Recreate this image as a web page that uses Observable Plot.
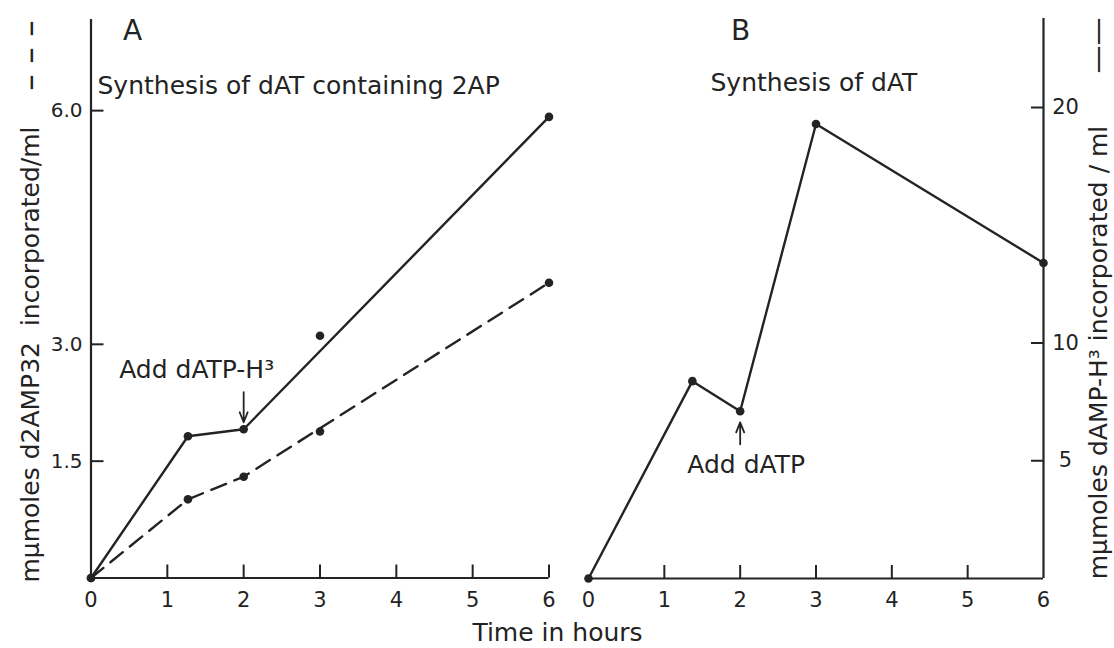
<!DOCTYPE html>
<html><head><meta charset="utf-8">
<script src="https://cdn.jsdelivr.net/npm/d3@7"></script>
<script src="https://cdn.jsdelivr.net/npm/@observablehq/plot@0.6"></script>
<style>
body{margin:0;background:#fff}
#fig{position:relative;width:1114px;height:648px;overflow:hidden;background:#fff}
#fig svg{position:absolute;left:0;top:0}
</style></head><body><div id="fig"></div>
<script>
// ---- data ----
const hoursA = [0, 1.27, 2, 3, 6];
const solidA = [0, 1.82, 1.91, 3.11, 5.92];   // mμmoles dAMP-H3 (solid)
const dashedA = [0, 1.01, 1.30, 1.88, 3.79];  // mμmoles d2AMP32 (dashed)
const onLineA = [true, true, true, false, true];
const hoursB = [0, 1.37, 2, 3, 6];
const valuesB = [0, 8.38, 7.10, 19.3, 13.4];
const xTicks = [0, 1, 2, 3, 4, 5, 6];
const yTicksA = [1.5, 3.0, 6.0];
const yTicksB = [5, 10, 20];
const titleA = "Synthesis of dAT containing 2AP";
const titleB = "Synthesis of dAT";
const noteA = "Add dATP-H³";
const noteB = "Add dATP";
const xLabel = "Time in hours";
const yLabelLeft = "mμmoles d2AMP32  incorporated/ml";
const yLabelRight = "mμmoles dAMP-H³ incorporated / ml";

const W = 1114, H = 648;
const ink = "#232323";
const font = "DejaVu Sans";

const A = hoursA.map((h, i) => ({h, solid: solidA[i], dashed: dashedA[i], line: onLineA[i]}));
const lineA = A.filter(d => d.line);
const B = hoursB.map((h, i) => ({h, v: valuesB[i]}));

const arrowShape = {
  draw(ctx, l) {
    const w = 4, hh = 10;
    ctx.moveTo(0, 0); ctx.lineTo(0, -l);
    ctx.moveTo(-w, -l + hh); ctx.lineTo(0, -l); ctx.lineTo(w, -l + hh);
  }
};

const common = {width: W, height: H, style: {background: "transparent", fontFamily: font, color: ink, overflow: "visible"}};
const intFmt = d => String(d);

const plotA = Plot.plot({
  ...common,
  marginLeft: 90.5, marginRight: W - 548.5, marginTop: 19, marginBottom: H - 577.5,
  x: {domain: [0, 6]},
  y: {domain: [0, 7.17]},
  marks: [
    Plot.ruleX([0], {stroke: ink, strokeWidth: 2.2}),
    Plot.ruleY([0], {stroke: ink, strokeWidth: 2.2}),
    Plot.axisX({ticks: xTicks.slice(1), tickSize: -13, tickFormat: () => "", strokeWidth: 2, stroke: ink, label: null}),
    Plot.axisX({ticks: xTicks, tickSize: 0, tickPadding: 14, fontSize: 21, fill: ink, tickFormat: intFmt, label: null}),
    Plot.axisY({ticks: yTicksA, tickSize: -13, tickFormat: () => "", strokeWidth: 2, stroke: ink, label: null}),
    Plot.axisY({ticks: yTicksA, tickSize: 0, tickPadding: 8.5, fontSize: 20, fill: ink, tickFormat: d => d.toFixed(1), label: null}),
    Plot.line(lineA, {x: "h", y: "solid", stroke: ink, strokeWidth: 2.4}),
    Plot.line(lineA, {x: "h", y: "dashed", stroke: ink, strokeWidth: 2.4, strokeDasharray: "16,9"}),
    Plot.dot(A, {x: "h", y: "solid", r: 4.3, fill: ink}),
    Plot.dot(A, {x: "h", y: "dashed", r: 4.3, fill: ink}),
    Plot.vector([A[2]], {x: "h", y: "solid", length: 30, rotate: 180, anchor: "end", dy: -7, shape: arrowShape, stroke: ink, strokeWidth: 1.8}),
    Plot.text([A[2]], {x: "h", y: "solid", text: () => noteA, textAnchor: "start", lineAnchor: "bottom", dx: -124.5, dy: -51, fontSize: 25, fill: ink, ariaLabel: "noteA"}),
    Plot.text(["A"], {frameAnchor: "top-left", text: d => d, dx: 41.5, dy: 20, textAnchor: "middle", lineAnchor: "bottom", fontSize: 28, fill: ink}),
    Plot.text([titleA], {frameAnchor: "top-left", text: d => d, dx: 6.5, dy: 74, textAnchor: "start", lineAnchor: "bottom", fontSize: 25, fill: ink, ariaLabel: "titleA"}),
    Plot.text([xLabel], {frameAnchor: "bottom-left", text: d => d, dx: 466.5, dy: 63, textAnchor: "middle", lineAnchor: "bottom", fontSize: 25, fill: ink, ariaLabel: "xlabel"}),
    Plot.text([yLabelLeft], {frameAnchor: "top-left", text: d => d, dx: -60.5, dy: 335, rotate: -90, textAnchor: "middle", lineAnchor: "middle", fontSize: 25, fill: ink, ariaLabel: "ylabelL"}),
    Plot.text(["– – –"], {frameAnchor: "top-left", text: d => d, dx: -60.5, dy: 36, rotate: -90, textAnchor: "middle", lineAnchor: "middle", fontSize: 33, fill: ink})
  ]
});

const plotB = Plot.plot({
  ...common,
  marginLeft: 588, marginRight: W - 1043, marginTop: 18, marginBottom: H - 578,
  x: {domain: [0, 6]},
  y: {domain: [0, 23.78]},
  marks: [
    Plot.ruleX([6], {stroke: ink, strokeWidth: 2.2}),
    Plot.ruleY([0], {stroke: ink, strokeWidth: 2.2}),
    Plot.axisX({ticks: xTicks.slice(1, 6), tickSize: -13, tickFormat: () => "", strokeWidth: 2, stroke: ink, label: null}),
    Plot.axisX({ticks: xTicks, tickSize: 0, tickPadding: 14, fontSize: 21, fill: ink, tickFormat: intFmt, label: null}),
    Plot.axisY({anchor: "right", ticks: yTicksB, tickSize: -13, tickFormat: () => "", strokeWidth: 2, stroke: ink, label: null}),
    Plot.axisY({anchor: "right", ticks: yTicksB, tickSize: 0, tickPadding: 22, textAnchor: "middle", fontSize: 21, fill: ink, tickFormat: intFmt, label: null}),
    Plot.line(B, {x: "h", y: "v", stroke: ink, strokeWidth: 2.4}),
    Plot.dot(B, {x: "h", y: "v", r: 4.3, fill: ink}),
    Plot.vector([B[2]], {x: "h", y: "v", length: 22, rotate: 0, anchor: "end", dy: 11, shape: arrowShape, stroke: ink, strokeWidth: 1.8}),
    Plot.text([B[2]], {x: "h", y: "v", text: () => noteB, textAnchor: "middle", lineAnchor: "bottom", dx: 6, dy: 62, fontSize: 25, fill: ink}),
    Plot.text(["B"], {frameAnchor: "top-left", text: d => d, dx: 152, dy: 21, textAnchor: "middle", lineAnchor: "bottom", fontSize: 28, fill: ink}),
    Plot.text([titleB], {frameAnchor: "top-left", text: d => d, dx: 122, dy: 72, textAnchor: "start", lineAnchor: "bottom", fontSize: 25, fill: ink}),
    Plot.text([yLabelRight], {frameAnchor: "top-right", text: d => d, dx: 55, dy: 334, rotate: -90, textAnchor: "middle", lineAnchor: "middle", fontSize: 25, fill: ink, ariaLabel: "ylabelR"}),
    Plot.text(["——"], {frameAnchor: "top-right", text: d => d, dx: 55, dy: 27, rotate: -90, textAnchor: "middle", lineAnchor: "middle", fontSize: 28, fill: ink, ariaLabel: "legendR"})
  ]
});

const fig = document.getElementById("fig");
fig.appendChild(plotA);
fig.appendChild(plotB);

function spacing(svg, label, px) {
  d3.select(svg).selectAll(`g[aria-label="${label}"] text`).style("letter-spacing", px + "px");
}
spacing(plotA, "titleA", 0.6);
spacing(plotA, "ylabelL", 1.3);
spacing(plotA, "xlabel", 0.6);
spacing(plotB, "ylabelR", 0.6);
</script></body></html>
